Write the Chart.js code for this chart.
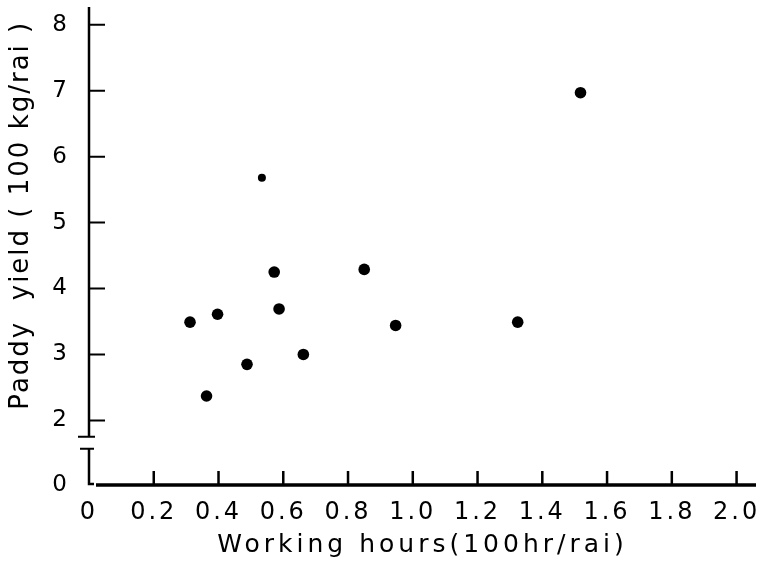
<!DOCTYPE html>
<html>
<head>
<meta charset="utf-8">
<script src="https://cdn.jsdelivr.net/npm/chart.js@4"></script>
<style>
  html, body { margin: 0; padding: 0; background: #fff; }
  #wrap { width: 763px; height: 567px; }
</style>
</head>
<body>
<div id="wrap"><canvas id="chart" width="763" height="567"></canvas></div>
<script>
/* Paddy yield vs working hours — scatter with broken y axis */

const hours = [0.312, 0.397, 0.363, 0.488, 0.534, 0.572, 0.587, 0.662, 0.850, 0.947, 1.324, 1.518];
const yieldVals = [3.49, 3.61, 2.37, 2.85, 5.68, 4.25, 3.69, 3.00, 4.29, 3.44, 3.49, 6.97];
const xTicks = [0, 0.2, 0.4, 0.6, 0.8, 1.0, 1.2, 1.4, 1.6, 1.8, 2.0];
const yTicks = [2, 3, 4, 5, 6, 7, 8];

// the axis is broken below 2: "0" sits where 1.02 would be
const ZERO_AT = 1.02;
const BREAK_TOP = 1.75, BREAK_BOTTOM = 1.57;
const FONT = "'DejaVu Sans', sans-serif";

const points = hours.map((x, i) => ({ x, y: yieldVals[i] }));

// give one scale's title its own letter spacing
function spaceTitle(scale, spacing) {
  if (scale._spaced) return;
  const orig = scale.drawTitle;
  scale.drawTitle = function () {
    const c = this.ctx;
    const prev = c.letterSpacing;
    c.letterSpacing = spacing;
    orig.call(this);
    c.letterSpacing = prev;
  };
  scale._spaced = true;
}

// axis lines, inward ticks and the break marks
const axesPlugin = {
  id: 'axes',
  afterLayout(chart) {
    spaceTitle(chart.scales.x, '4px');
    spaceTitle(chart.scales.y, '2px');
  },
  beforeDraw(chart) { chart.ctx.letterSpacing = '3px'; },
  afterDraw(chart) {
    const { ctx, chartArea, scales } = chart;
    const xs = scales.x, ys = scales.y;
    const x0 = xs.getPixelForValue(0);
    const bottom = ys.getPixelForValue(ZERO_AT);
    ctx.save();
    ctx.letterSpacing = '0px';
    ctx.strokeStyle = '#000';
    ctx.lineCap = 'butt';

    // upper part of y axis
    const yBreakTop = ys.getPixelForValue(BREAK_TOP);
    const yBreakBot = ys.getPixelForValue(BREAK_BOTTOM);
    ctx.lineWidth = 2.5;
    ctx.beginPath();
    ctx.moveTo(x0, chartArea.top);
    ctx.lineTo(x0, yBreakTop);
    ctx.stroke();
    ctx.lineWidth = 2;
    ctx.beginPath();
    ctx.moveTo(x0 - 11, yBreakTop);
    ctx.lineTo(x0 + 6, yBreakTop);
    ctx.moveTo(x0 - 9, yBreakBot);
    ctx.lineTo(x0 + 5, yBreakBot);
    ctx.stroke();
    // lower stub
    ctx.lineWidth = 2.5;
    ctx.beginPath();
    ctx.moveTo(x0, yBreakBot);
    ctx.lineTo(x0, bottom - 1);
    ctx.lineTo(x0 + 5, bottom - 1);
    ctx.stroke();

    // x axis
    ctx.lineWidth = 3.5;
    ctx.beginPath();
    ctx.moveTo(x0 + 7, bottom);
    ctx.lineTo(chartArea.right, bottom);
    ctx.stroke();

    // y ticks pointing right
    ctx.lineWidth = 2;
    ctx.beginPath();
    yTicks.forEach(v => {
      const py = ys.getPixelForValue(v);
      ctx.moveTo(x0, py);
      ctx.lineTo(x0 + 16, py);
    });
    ctx.stroke();

    // x ticks pointing up
    ctx.lineWidth = 2.5;
    ctx.beginPath();
    xTicks.slice(1).forEach(v => {
      const px = xs.getPixelForValue(v);
      ctx.moveTo(px, bottom);
      ctx.lineTo(px, bottom - 14);
    });
    ctx.stroke();
    ctx.restore();
    ctx.letterSpacing = '0px';
  }
};

new Chart(document.getElementById('chart'), {
  type: 'scatter',
  data: {
    datasets: [{
      data: points,
      backgroundColor: '#000',
      borderColor: '#000',
      pointRadius: ctx => ctx.dataIndex === 4 ? 4 : 5.8,
      pointHoverRadius: 5.8,
      borderWidth: 0,
    }]
  },
  options: {
    responsive: false,
    animation: false,
    devicePixelRatio: 1,
    layout: { padding: { top: 7, right: 7, left: 0, bottom: 0 } },
    plugins: { legend: { display: false }, tooltip: { enabled: false } },
    scales: {
      x: {
        type: 'linear',
        min: 0, max: 2.06,
        afterBuildTicks: s => { s.ticks = xTicks.map(v => ({ value: v })); },
        afterFit: s => { s.height = 82; s.paddingLeft = 0; s.paddingRight = 0; },
        border: { display: false },
        grid: { display: false, drawTicks: false },
        ticks: {
          autoSkip: false, maxRotation: 0, padding: 13,
          color: '#000',
          font: { family: FONT, size: 24 },
          callback: v => v === 0 ? '0' : v.toFixed(1),
        },
        title: {
          display: true,
          text: 'Working hours(100hr/rai)',
          color: '#000',
          font: { family: FONT, size: 25 },
          padding: { top: 0, bottom: 7 },
        }
      },
      y: {
        type: 'linear',
        min: ZERO_AT, max: 8.27,
        afterBuildTicks: s => { s.ticks = [ZERO_AT, ...yTicks].map(v => ({ value: v })); },
        afterFit: s => { s.width = 89; s.paddingTop = 0; s.paddingBottom = 0; },
        border: { display: false },
        grid: { display: false, drawTicks: false },
        ticks: {
          autoSkip: false, padding: 19,
          color: '#000',
          font: { family: FONT, size: 23 },
          callback: v => v === ZERO_AT ? '0' : String(v),
        },
        title: {
          display: true,
          text: '      Paddy  yield ( 100 kg/rai )',
          color: '#000',
          font: { family: FONT, size: 26 },
          padding: { top: 6, bottom: 0 },
        }
      }
    }
  },
  plugins: [axesPlugin]
});
</script>
</body>
</html>
